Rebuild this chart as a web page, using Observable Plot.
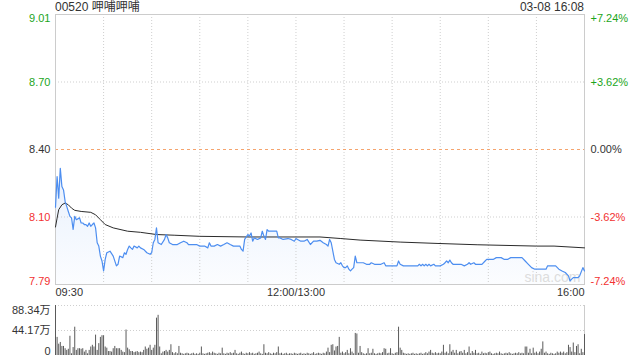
<!DOCTYPE html>
<html>
<head>
<meta charset="utf-8">
<script src="https://cdn.jsdelivr.net/npm/d3@7"></script>
<script src="https://cdn.jsdelivr.net/npm/@observablehq/plot@0.6"></script>
<style>
  html, body { margin: 0; padding: 0; background: #fff; }
  body { width: 640px; height: 360px; position: relative; overflow: hidden;
         font-family: "Liberation Sans", Arial, "Noto Sans CJK SC", sans-serif; }
  .hdr { position: absolute; top: 0; font-size: 12px; line-height: 15px; color: #333; }
  #main, #vol { position: absolute; left: 0; }
  #main { top: 0; }
  #vol { top: 295px; }
</style>
</head>
<body>
<div class="hdr" id="title" style="left:55px;"></div>
<div class="hdr" id="stamp" style="right:56px;"></div>
<div id="main"></div>
<div id="vol"></div>
<script>
// ---- data ----
const titleText = "00520 呷哺呷哺";
const stampText = "03-08 16:08";

// minutes since 09:30 (trading minutes, 330 total)
const priceTimes = [0,1,2,3,4,5,6,7,8,9,10,11,12,13,15,16,17,18,19,20,21,22,23,24,25,26,27,28,29,30,31,32,34,36,38,39,40,42,43,44,45,46,47,48,49,51,52,53,55,57,59,60,61,62,63,64,66,68,69,70,71,73,76,78,80,82,83,85,88,90,93,95,96,97,99,101,103,105,107,109,111,115,116,117,118,120,121,122,123,124,126,128,129,130,131,132,133,138,139,140,142,145,147,149,150,151,153,155,157,159,161,163,165,167,169,170,171,172,174,175,177,178,179,180,181,182,183,184,185,186,187,188,192,194,196,197,199,203,205,206,213,214,215,217,226,227,228,229,230,231,232,233,234,236,237,240,242,243,244,245,246,247,248,253,255,257,258,259,261,262,266,268,269,273,275,278,280,282,284,291,293,295,297,299,306,307,312,314,316,318,320,321,322,323,326,327,329,330];
const prices = [8.140,8.278,8.181,8.315,8.233,8.218,8.166,8.144,8.121,8.099,8.092,8.040,8.099,8.084,8.092,8.069,8.069,8.062,8.062,8.054,8.069,8.054,8.062,8.069,8.047,7.980,7.965,7.920,7.898,7.853,7.905,7.935,7.942,7.920,7.876,7.883,7.920,7.913,7.935,7.928,7.950,7.965,7.957,7.950,7.965,7.957,7.965,7.957,7.950,7.935,7.928,7.935,7.980,7.995,8.047,7.980,7.972,7.995,8.017,8.002,7.980,7.972,7.972,7.980,7.987,7.980,7.972,7.972,7.972,7.965,7.965,7.957,7.980,7.965,7.965,7.972,7.965,7.972,7.980,7.972,7.965,7.965,7.950,7.942,7.995,8.017,8.010,8.024,7.987,8.002,7.995,8.002,8.032,8.010,7.995,8.039,8.032,8.032,8.002,8.002,7.995,7.999,7.995,7.987,7.999,7.995,7.987,7.987,7.995,7.972,7.987,7.987,7.991,7.980,7.972,7.965,7.995,7.980,7.905,7.890,7.883,7.890,7.876,7.868,7.868,7.876,7.861,7.853,7.861,7.868,7.920,7.890,7.890,7.883,7.883,7.890,7.883,7.883,7.890,7.876,7.876,7.898,7.883,7.876,7.876,7.883,7.876,7.883,7.876,7.883,7.876,7.883,7.876,7.883,7.876,7.876,7.883,7.890,7.898,7.890,7.902,7.890,7.883,7.883,7.876,7.883,7.890,7.883,7.890,7.883,7.883,7.898,7.905,7.905,7.913,7.913,7.905,7.905,7.913,7.913,7.898,7.883,7.868,7.861,7.861,7.876,7.876,7.861,7.853,7.846,7.831,7.808,7.816,7.823,7.823,7.831,7.868,7.853];

const avgTimes = [0,1,2,4,6,8,10,12,16,22,25,28,31,36,45,53,63,74,90,120,165,178,190,215,238,263,300,311,330];
const avgPrices = [8.051,8.091,8.129,8.151,8.159,8.151,8.136,8.126,8.121,8.117,8.106,8.084,8.062,8.047,8.032,8.027,8.017,8.014,8.009,8.006,8.006,7.999,7.992,7.983,7.977,7.971,7.965,7.965,7.957];

// volume per minute, in 万 shares
const volumes = [88.3,32,20,23,16,16,12,9,11,34,3,14,50,9,12,12,11,12,6,9,3,9,15,18,15,36,9,21,32,35,35,15,13,7,7,6,12,16,12,12,12,9,6,5,45,13,10,7,7,5,6,7,5,6,5,9,15,11,13,18,9,13,18,66,71,15,3,6,7,9,6,9,19,5,3,5,3,16,4,3,2,3,4,3,2,3,4,2,3,2,4,15,3,2,3,4,5,3,6,4,3,2,4,3,13,3,2,4,3,5,3,4,9,3,2,4,6,3,2,4,3,5,3,4,2,3,4,6,3,2,19,4,3,5,3,2,4,3,5,15,3,4,2,3,4,2,3,3,2,4,3,2,3,4,2,3,2,4,3,2,3,5,2,3,4,3,2,4,3,6,13,5,18,19,8,15,16,32,4,6,3,5,9,3,12,6,3,39,38,4,16,5,3,2,3,12,3,4,11,3,2,3,4,3,5,12,11,3,4,12,3,2,4,5,50,13,9,4,3,2,3,2,3,4,2,3,2,3,4,2,3,5,3,6,9,4,3,5,3,4,3,6,18,4,6,3,19,6,9,4,9,3,6,7,4,9,3,5,15,3,7,4,9,3,4,2,6,3,4,3,5,6,3,2,3,4,3,6,3,2,3,4,3,5,3,2,3,4,3,5,3,4,3,15,15,4,11,3,13,4,6,3,6,11,24,4,6,3,2,4,3,2,3,6,4,6,4,6,3,5,18,14,6,22,5,16,19,3,11,5,37];

const priceLevels = [9.008, 8.704, 8.40, 8.096, 7.792];
const leftLabels = ["9.01", "8.70", "8.40", "8.10", "7.79"];
const rightLabels = ["+7.24%", "+3.62%", "0.00%", "-3.62%", "-7.24%"];
const prevClose = 8.40;
const gridTimes = [30,60,90,120,150,180,210,240,270,300];
const timeTicks = [0, 150, 330];
const timeLabels = ["09:30", "12:00/13:00", "16:00"];
const volLevels = [88.34, 44.17, 0];
const volLabels = ["88.34万", "44.17万", "0"];
const watermark = "sina.com";

// ---- derived tables ----
const priceData = priceTimes.map((t, i) => ({t, p: prices[i]}));
const avgData = avgTimes.map((t, i) => ({t, p: avgPrices[i]}));
const volData = volumes.map((v, i) => ({t: i, v}));
const GREEN = "#1ba51b", RED = "#f23131", DARK = "#333";
const labelColors = [GREEN, GREEN, DARK, RED, RED];
const lvl = priceLevels.map((y, i) => ({y, l: leftLabels[i], r: rightLabels[i], c: labelColors[i], i}));

document.getElementById("title").textContent = titleText;
document.getElementById("stamp").textContent = stampText;

const FONT = '"Liberation Sans", Arial, "Noto Sans CJK SC", sans-serif';
const yMin = priceLevels[4], yMax = priceLevels[0];

function gradientDefs() {
  const ns = "http://www.w3.org/2000/svg";
  const defs = document.createElementNS(ns, "defs");
  defs.innerHTML = '<linearGradient id="blueFade" x1="0" y1="0" x2="0" y2="1">' +
    '<stop offset="0%" stop-color="#4d8ef0" stop-opacity="0.13"/>' +
    '<stop offset="100%" stop-color="#4d8ef0" stop-opacity="0.02"/></linearGradient>';
  return defs;
}

function labelMarks(anchor, filter) {
  const sel = lvl.filter(filter);
  return [
    Plot.text(sel, {y: "y", text: "l", fill: "c", frameAnchor: "left", textAnchor: "end", dx: -5, lineAnchor: anchor, fontSize: 11}),
    Plot.text(sel, {y: "y", text: "r", fill: "c", frameAnchor: "right", textAnchor: "start", dx: 6, lineAnchor: anchor, fontSize: 11})
  ];
}

const main = Plot.plot({
  width: 640, height: 300,
  marginTop: 14, marginBottom: 16, marginLeft: 55, marginRight: 56,
  style: {fontFamily: FONT, background: "transparent", overflow: "visible"},
  x: {domain: [0, 330], axis: null},
  y: {domain: [yMin, yMax], axis: null},
  color: {type: "identity"},
  marks: [
    gradientDefs,
    Plot.areaY(priceData, {x: "t", y1: yMin, y2: "p", fill: "url(#blueFade)"}),
    Plot.ruleX(gridTimes, {stroke: "#cfcfcf", strokeDasharray: "1,2"}),
    Plot.ruleY([priceLevels[1], priceLevels[3]], {stroke: "#cfcfcf", strokeDasharray: "1,2"}),
    Plot.ruleY([prevClose], {stroke: "#f5a46e", strokeDasharray: "3,3"}),
    Plot.frame({stroke: "#cccccc"}),
    Plot.text([watermark], {frameAnchor: "bottom-right", textAnchor: "end", dx: -4, dy: -3, lineAnchor: "bottom", fill: "#dddddd", fontSize: 14}),
    Plot.lineY(avgData, {x: "t", y: "p", stroke: "#2b2b2b", strokeWidth: 1}),
    Plot.lineY(priceData, {x: "t", y: "p", stroke: "#4d8ef0", strokeWidth: 1.2}),
    ...labelMarks("top", d => d.i === 0),
    ...labelMarks("middle", d => d.i > 0 && d.i < 4),
    ...labelMarks("bottom", d => d.i === 4),
    Plot.text([timeLabels[0]], {x: timeTicks[0], frameAnchor: "bottom", textAnchor: "start", lineAnchor: "top", dy: 4, fill: DARK, fontSize: 11}),
    Plot.text([timeLabels[1]], {x: timeTicks[1], frameAnchor: "bottom", textAnchor: "middle", lineAnchor: "top", dy: 4, fill: DARK, fontSize: 11}),
    Plot.text([timeLabels[2]], {x: timeTicks[2], frameAnchor: "bottom", textAnchor: "end", lineAnchor: "top", dy: 4, fill: DARK, fontSize: 11})
  ]
});
document.getElementById("main").appendChild(main);

const vl = volLevels.map((v, i) => ({v, l: volLabels[i], i}));
const vol = Plot.plot({
  width: 640, height: 65,
  marginTop: 10, marginBottom: 5, marginLeft: 55, marginRight: 56,
  style: {fontFamily: FONT, background: "transparent", overflow: "visible"},
  x: {domain: [0, 330], axis: null},
  y: {domain: [0, volLevels[0]], axis: null},
  marks: [
    Plot.ruleY([volLevels[0], volLevels[1]], {stroke: "#cfcfcf", strokeDasharray: "1,2"}),
    Plot.ruleX([0, 330], {stroke: "#cccccc"}),
    Plot.ruleX(volData, {x: "t", y: "v", stroke: "#5a5a5a", strokeWidth: 1}),
    Plot.text(vl.filter(d => d.i === 0), {y: "v", text: "l", frameAnchor: "left", textAnchor: "end", dx: -5, lineAnchor: "top", dy: 1, fill: DARK, fontSize: 11}),
    Plot.text(vl.filter(d => d.i === 1), {y: "v", text: "l", frameAnchor: "left", textAnchor: "end", dx: -5, lineAnchor: "middle", fill: DARK, fontSize: 11}),
    Plot.text(vl.filter(d => d.i === 2), {y: "v", text: "l", frameAnchor: "left", textAnchor: "end", dx: -5, lineAnchor: "bottom", dy: -1, fill: DARK, fontSize: 11})
  ]
});
document.getElementById("vol").appendChild(vol);
</script>
</body>
</html>
